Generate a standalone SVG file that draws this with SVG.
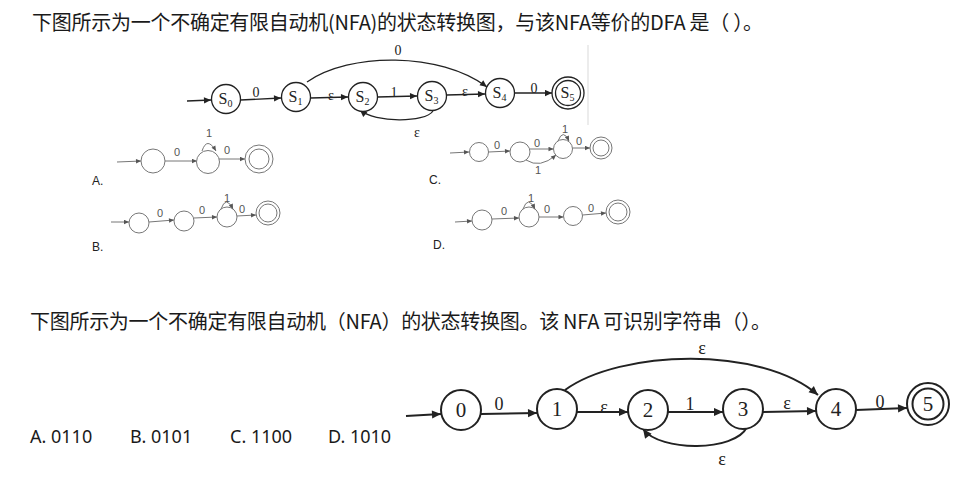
<svg xmlns="http://www.w3.org/2000/svg" width="971" height="481" viewBox="0 0 971 481">
<style>
.q{font-family:"Noto Sans CJK SC","Noto Sans",sans-serif;font-size:20px;fill:#1a1a1a}
.opt{font-family:"Noto Sans","Liberation Sans",sans-serif;font-size:18px;fill:#1a1a1a}
.n1{fill:#fff;stroke:#222;stroke-width:1.3}
.e1{fill:none;stroke:#222;stroke-width:1.3}
.t1{font-family:"Liberation Serif",serif;font-size:14px;fill:#222;text-anchor:middle}
.s1{font-family:"Liberation Serif",serif;font-size:16px;fill:#222}
.n2{fill:#fff;stroke:#222;stroke-width:2}
.e2{fill:none;stroke:#222;stroke-width:2}
.t2{font-family:"Liberation Serif",serif;font-size:18px;fill:#222;text-anchor:middle}
.c2{font-family:"Liberation Serif",serif;font-size:21px;fill:#222;text-anchor:middle}
.ng{fill:#fff;stroke:#777;stroke-width:1}
.eg{fill:none;stroke:#777;stroke-width:1}
.tg{font-family:"Liberation Sans",sans-serif;font-size:11px;fill:#555;text-anchor:middle}
.lb{font-family:"Liberation Sans",sans-serif;font-size:12px;fill:#222}
</style>
<defs>
<marker id="a1" viewBox="0 0 10 10" refX="10" refY="5" markerWidth="8" markerHeight="7" markerUnits="userSpaceOnUse" orient="auto"><path d="M0,0.5 L10,5 L0,9.5 z" fill="#222"/></marker>
<marker id="a2" viewBox="0 0 10 10" refX="10" refY="5" markerWidth="11" markerHeight="9" markerUnits="userSpaceOnUse" orient="auto"><path d="M0,0.5 L10,5 L0,9.5 z" fill="#222"/></marker>
<marker id="ag" viewBox="0 0 10 10" refX="10" refY="5" markerWidth="6" markerHeight="5" markerUnits="userSpaceOnUse" orient="auto"><path d="M0,0.5 L10,5 L0,9.5 z" fill="#555"/></marker>
</defs>
<rect width="971" height="481" fill="#fff"/>

<text id="question1" class="q" x="32" y="29.5" textLength="731" lengthAdjust="spacing">下图所示为一个不确定有限自动机(NFA)的状态转换图，与该NFA等价的DFA 是（ ）。</text>
<line x1="588" y1="45" x2="588" y2="125" stroke="#e6e6e6" stroke-width="1.5"/>

<!-- Top NFA -->
<g id="top-connectors">
<line class="e1" x1="187" y1="101" x2="211" y2="100" marker-end="url(#a1)"/>
<line class="e1" x1="240.5" y1="100" x2="281" y2="98" marker-end="url(#a1)"/>
<line class="e1" x1="310.5" y1="98" x2="348" y2="97" marker-end="url(#a1)"/>
<line class="e1" x1="377.5" y1="97" x2="417" y2="96" marker-end="url(#a1)"/>
<line class="e1" x1="446.5" y1="95" x2="485" y2="94" marker-end="url(#a1)"/>
<line class="e1" x1="514.5" y1="93" x2="552" y2="93" marker-end="url(#a1)"/>
<path class="e1" d="M307,82 C350,52 440,52 487,87" marker-end="url(#a1)"/>
<path class="e1" d="M433,111 C425,123 375,123 360,110" marker-end="url(#a1)"/>
<text class="t1" x="256" y="97">0</text>
<text class="t1" x="331" y="100">ε</text>
<text class="t1" x="394" y="97">1</text>
<text class="t1" x="465" y="96">ε</text>
<text class="t1" x="534" y="93">0</text>
<text class="t1" x="398" y="55">0</text>
<text class="t1" x="417" y="137">ε</text>
</g>
<g id="S0"><circle class="n1" cx="226" cy="99" r="14.5"/><text class="s1" x="218.5" y="104">S<tspan font-size="10" dy="3">0</tspan></text></g>
<g id="S1"><circle class="n1" cx="296" cy="97" r="14.5"/><text class="s1" x="288.5" y="102">S<tspan font-size="10" dy="3">1</tspan></text></g>
<g id="S2"><circle class="n1" cx="363" cy="97" r="14.5"/><text class="s1" x="355.5" y="102">S<tspan font-size="10" dy="3">2</tspan></text></g>
<g id="S3"><circle class="n1" cx="432" cy="96" r="14.5"/><text class="s1" x="424.5" y="101">S<tspan font-size="10" dy="3">3</tspan></text></g>
<g id="S4"><circle class="n1" cx="500" cy="93" r="14.5"/><text class="s1" x="492.5" y="98">S<tspan font-size="10" dy="3">4</tspan></text></g>
<g id="S5"><circle class="n1" cx="568" cy="93" r="16"/><circle class="n1" cx="568" cy="93" r="12.5"/><text class="s1" x="560.5" y="98">S<tspan font-size="10" dy="3">5</tspan></text></g>

<!-- Option A -->
<g id="optA">
<line class="eg" x1="117" y1="162" x2="141" y2="161" marker-end="url(#ag)"/>
<circle class="ng" cx="153" cy="161" r="12"/>
<line class="eg" x1="165" y1="161" x2="197" y2="161" marker-end="url(#ag)"/>
<text class="tg" x="177" y="156">0</text>
<circle class="ng" cx="208" cy="162" r="11.5"/>
<path class="eg" d="M202,151 Q207,136 216,151" marker-end="url(#ag)"/>
<text class="tg" x="209" y="137">1</text>
<line class="eg" x1="219" y1="159" x2="245" y2="159" marker-end="url(#ag)"/>
<text class="tg" x="227" y="154">0</text>
<circle class="ng" cx="259" cy="159" r="14"/><circle class="ng" cx="259" cy="159" r="10"/>
<text class="lb" x="92" y="185">A.</text>
</g>
<!-- Option C -->
<g id="optC">
<line class="eg" x1="450" y1="153" x2="469" y2="152" marker-end="url(#ag)"/>
<circle class="ng" cx="479" cy="152" r="9.5"/>
<line class="eg" x1="488.5" y1="152" x2="510" y2="151" marker-end="url(#ag)"/>
<text class="tg" x="497" y="149">0</text>
<circle class="ng" cx="520" cy="152" r="10"/>
<line class="eg" x1="530" y1="149" x2="553.5" y2="149" marker-end="url(#ag)"/>
<text class="tg" x="537" y="147">0</text>
<path class="eg" d="M526,160 Q540,169 556,155" marker-end="url(#ag)"/>
<text class="tg" x="538" y="174">1</text>
<circle class="ng" cx="563" cy="149" r="9.5"/>
<path class="eg" d="M558,141 Q563,128 569,141" marker-end="url(#ag)"/>
<text class="tg" x="565" y="133">1</text>
<line class="eg" x1="572.5" y1="148" x2="590" y2="148" marker-end="url(#ag)"/>
<text class="tg" x="579" y="145">0</text>
<circle class="ng" cx="601" cy="148" r="11"/><circle class="ng" cx="601" cy="148" r="8"/>
<text class="lb" x="429" y="184">C.</text>
</g>
<!-- Option B -->
<g id="optB">
<line class="eg" x1="111" y1="222" x2="129" y2="222" marker-end="url(#ag)"/>
<circle class="ng" cx="139" cy="223" r="10"/>
<line class="eg" x1="149" y1="222" x2="174" y2="220" marker-end="url(#ag)"/>
<text class="tg" x="160" y="217">0</text>
<circle class="ng" cx="184" cy="221" r="10"/>
<line class="eg" x1="194" y1="218" x2="217" y2="217" marker-end="url(#ag)"/>
<text class="tg" x="202" y="214">0</text>
<circle class="ng" cx="227" cy="217" r="10"/>
<path class="eg" d="M221,209 Q226,195 233,209" marker-end="url(#ag)"/>
<text class="tg" x="227" y="202">1</text>
<line class="eg" x1="237" y1="216" x2="256" y2="215" marker-end="url(#ag)"/>
<text class="tg" x="242" y="213">0</text>
<circle class="ng" cx="268" cy="213" r="12"/><circle class="ng" cx="268" cy="213" r="9"/>
<text class="lb" x="92" y="251">B.</text>
</g>
<!-- Option D -->
<g id="optD">
<line class="eg" x1="455" y1="222" x2="472" y2="221" marker-end="url(#ag)"/>
<circle class="ng" cx="482" cy="220" r="10"/>
<line class="eg" x1="492" y1="219" x2="519" y2="218" marker-end="url(#ag)"/>
<text class="tg" x="504" y="215">0</text>
<circle class="ng" cx="529" cy="217" r="10"/>
<path class="eg" d="M523,209 Q528,195 535,209" marker-end="url(#ag)"/>
<text class="tg" x="531" y="202">1</text>
<line class="eg" x1="539" y1="217" x2="563.5" y2="217" marker-end="url(#ag)"/>
<text class="tg" x="547" y="213">0</text>
<circle class="ng" cx="573" cy="216" r="9.5"/>
<line class="eg" x1="582.5" y1="215" x2="606" y2="213" marker-end="url(#ag)"/>
<text class="tg" x="591" y="212">0</text>
<circle class="ng" cx="618" cy="212" r="12"/><circle class="ng" cx="618" cy="212" r="9"/>
<text class="lb" x="433" y="249">D.</text>
</g>

<text id="question2" class="q" x="30" y="328.5" textLength="741" lengthAdjust="spacing">下图所示为一个不确定有限自动机（NFA）的状态转换图。该 NFA 可识别字符串（）。</text>
<g id="choices">
<text class="opt" x="30" y="443">A. 0110</text>
<text class="opt" x="130" y="443">B. 0101</text>
<text class="opt" x="230" y="443">C. 1100</text>
<text class="opt" x="328" y="443">D. 1010</text>
</g>

<!-- Bottom NFA -->
<g id="bottom-connectors">
<line class="e2" x1="406" y1="416" x2="441" y2="414" marker-end="url(#a2)"/>
<line class="e2" x1="481" y1="414" x2="537" y2="413" marker-end="url(#a2)"/>
<line class="e2" x1="577" y1="412" x2="628" y2="412" marker-end="url(#a2)"/>
<line class="e2" x1="668" y1="412" x2="723" y2="412" marker-end="url(#a2)"/>
<line class="e2" x1="763" y1="412" x2="816" y2="411" marker-end="url(#a2)"/>
<line class="e2" x1="856" y1="410" x2="907" y2="408" marker-end="url(#a2)"/>
<path class="e2" d="M565,390 C620,350 760,345 818,395" marker-end="url(#a2)"/>
<path class="e2" d="M747,427 C735,452 660,452 643,429" marker-end="url(#a2)"/>
<text class="t2" x="499" y="410">0</text>
<text class="t2" x="604" y="413">ε</text>
<text class="t2" x="690" y="410">1</text>
<text class="t2" x="787" y="409">ε</text>
<text class="t2" x="880" y="408">0</text>
<text class="t2" x="702" y="354">ε</text>
<text class="t2" x="722" y="465">ε</text>
</g>
<g id="q0"><circle class="n2" cx="461" cy="410" r="20"/><text class="c2" x="461" y="417">0</text></g>
<g id="q1"><circle class="n2" cx="557" cy="409" r="20"/><text class="c2" x="557" y="416">1</text></g>
<g id="q2"><circle class="n2" cx="648" cy="410" r="20"/><text class="c2" x="648" y="417">2</text></g>
<g id="q3"><circle class="n2" cx="743" cy="409" r="20"/><text class="c2" x="743" y="416">3</text></g>
<g id="q4"><circle class="n2" cx="836" cy="409" r="20"/><text class="c2" x="836" y="416">4</text></g>
<g id="q5"><circle class="n2" cx="928" cy="404" r="21"/><circle class="n2" cx="928" cy="404" r="15.5"/><text class="c2" x="928" y="411">5</text></g>
</svg>
